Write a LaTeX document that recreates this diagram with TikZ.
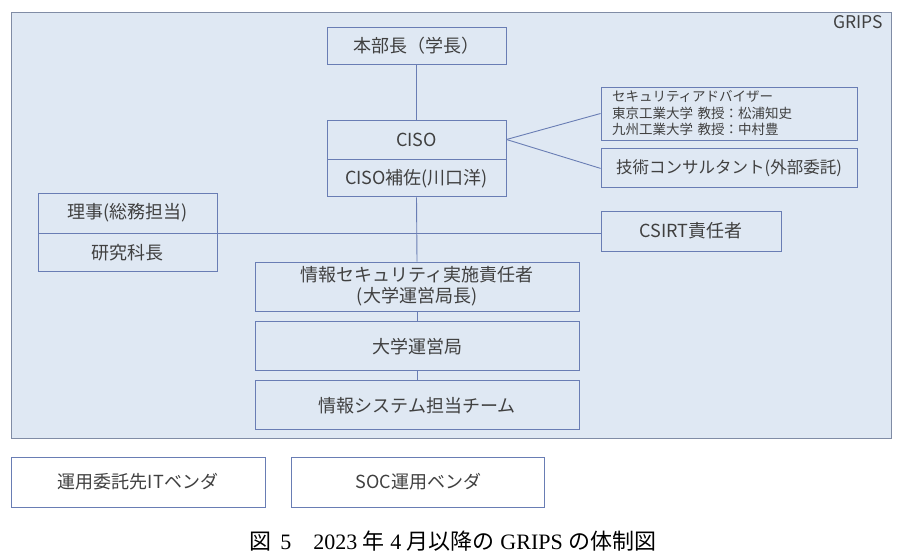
\documentclass[tikz,border=0pt]{standalone}
\usepackage{fontspec}
\setmainfont{Noto Sans CJK JP}
\newfontfamily\capfont{Liberation Serif}
\newfontfamily\cjk{Noto Sans CJK JP}
\usetikzlibrary{positioning}
\definecolor{gripsbg}{RGB}{223,232,243}
\definecolor{gripsln}{RGB}{128,140,165}
\definecolor{boxln}{RGB}{105,125,180}
\definecolor{txt}{RGB}{64,64,64}
\tikzstyle{obox}=[rectangle, draw=boxln, line width=0.9pt, inner sep=0pt,
                  text=txt, font=\fontsize{18}{21}\selectfont, align=center]
\tikzstyle{sbox}=[rectangle, draw=boxln, line width=0.9pt, inner sep=0pt,
                  text=txt, font=\fontsize{13.5}{16.5}\selectfont, align=left]
\tikzstyle{pline}=[-, draw=boxln, line width=0.9pt]

\begin{document}
\begin{tikzpicture}[x=1pt,y=1pt,node distance=0pt]
\useasboundingbox (0,0) rectangle (904,-556);

% GRIPS frame
\node (GRIPS) [rectangle, draw=gripsln, fill=gripsbg, line width=0.9pt,
  minimum width=880pt, minimum height=426pt, inner sep=0pt] at (451,-225) {};
\node (GRIPSLBL) [anchor=north east, text=txt, font=\fontsize{17.5}{20}\selectfont,
  inner sep=0pt] at (883,-15) {GRIPS};

\node (HQ) [obox, minimum width=179pt, minimum height=37pt] at (416.5,-45.5) {本部長（学長）};
\node (CISO) [obox, minimum width=179pt, minimum height=39pt] at (416.5,-139.5) {CISO};
\node (CISOA) [obox, minimum width=179pt, minimum height=37pt, below=0pt of CISO] {CISO補佐(川口洋)};
 \draw[pline] (HQ.south) -- (CISO.north);

\node (ADV) [sbox, minimum width=256pt, minimum height=53pt, text width=234pt] at (729,-113.5)
 {セキュリティアドバイザー\\東京工業大学 教授：松浦知史\\九州工業大学 教授：中村豊};
\node (TECH) [obox, font=\fontsize{16.5}{20}\selectfont, minimum width=256pt, minimum height=39pt,
  below=8pt of ADV] {技術コンサルタント(外部委託)};
 \draw[pline] (CISO.east) -- (ADV.west);
 \draw[pline] (CISO.east) -- (TECH.west);

\node (RIJI) [obox, minimum width=179pt, minimum height=40pt] at (127.5,-213) {理事(総務担当)};
\node (KENKYU) [obox, minimum width=179pt, minimum height=38pt, below=0pt of RIJI] {研究科長};
\node (CSIRT) [obox, minimum width=180pt, minimum height=40pt] at (691,-231) {CSIRT責任者};
 \draw[pline] (RIJI.south east) -- (RIJI.south east -| CSIRT.west);

\node (ISEC) [obox, minimum width=324pt, minimum height=49pt] at (417,-286.5)
 {情報セキュリティ実施責任者\\(大学運営局長)};
 \draw[pline] (CISOA.south) -- (ISEC.north);
\node (OPS) [obox, minimum width=324pt, minimum height=49pt, below=10pt of ISEC] {大学運営局};
 \draw[pline] (ISEC.south) -- (OPS.north);
\node (ISYS) [obox, minimum width=324pt, minimum height=49pt, below=9pt of OPS] {情報システム担当チーム};
 \draw[pline] (OPS.south) -- (ISYS.north);

% vendors
\node (ITVEND) [obox, fill=white, minimum width=254pt, minimum height=50pt] at (138,-482) {運用委託先ITベンダ};
\node (SOCVEND) [obox, fill=white, minimum width=253pt, minimum height=50pt, right=26pt of ITVEND] {SOC運用ベンダ};

\node (CAPTION) [font=\fontsize{22}{26}\selectfont\capfont, inner sep=0pt] at (453,-541)
 {{\cjk 図}\hspace{0.4em}5\hspace{1em}2023\hspace{0.25em}{\cjk 年}\hspace{0.25em}4\hspace{0.25em}{\cjk 月以降の}\hspace{0.25em}GRIPS\hspace{0.25em}{\cjk の体制図}};

\end{tikzpicture}
\end{document}
